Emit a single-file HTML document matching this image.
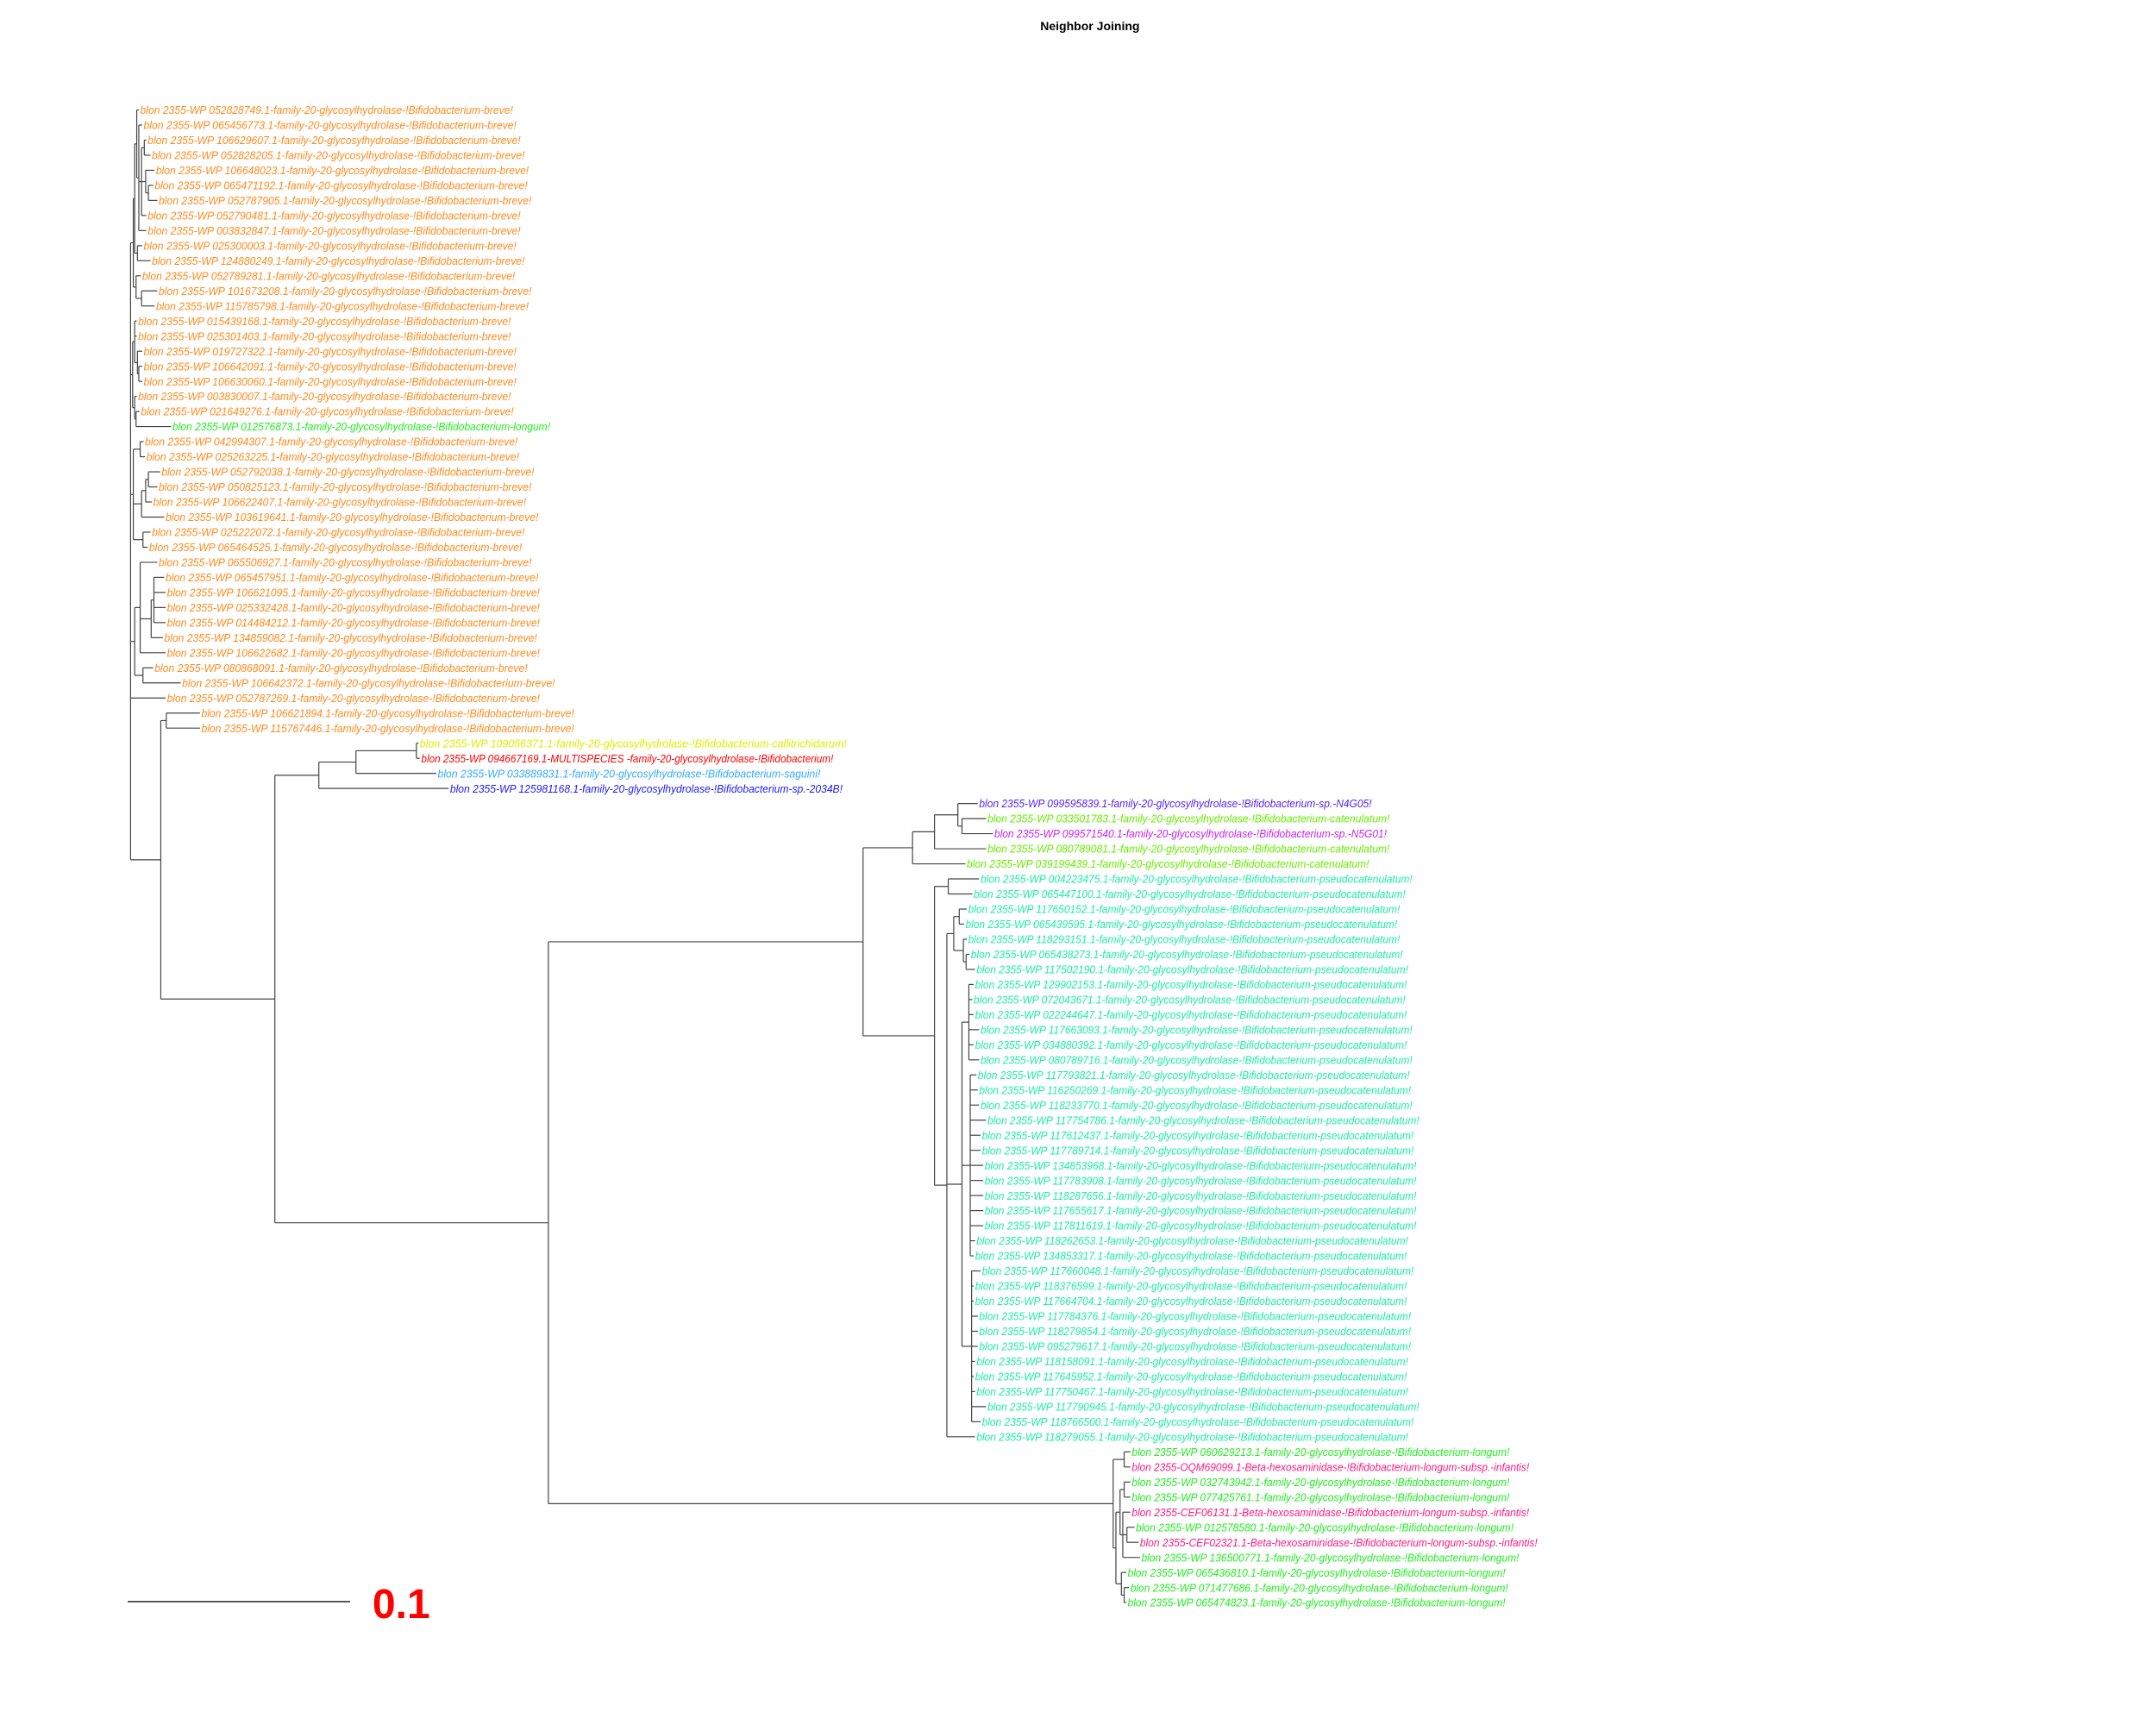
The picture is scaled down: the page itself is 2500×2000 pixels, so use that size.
<!DOCTYPE html>
<html><head><meta charset="utf-8">
<style>
html,body{margin:0;padding:0;background:#fff;}
svg{display:block;}
text{font-family:"Liberation Sans",Arial,sans-serif;}
</style></head>
<body>
<svg id="s" xmlns="http://www.w3.org/2000/svg" width="2500" height="2000" viewBox="0 0 1550 1240">
<rect width="1550" height="1240" fill="#fff"/>
<text x="783.6" y="21.7" font-size="8.7" font-weight="bold" text-anchor="middle" fill="#000">Neighbor Joining</text>
<line x1="91.8" y1="1151.3" x2="251.7" y2="1151.3" stroke="#333" stroke-width="1"/>
<text x="267.8" y="1163" font-size="29.8" font-weight="bold" fill="#ff0000">0.1</text>
<g transform="scale(0.988)">
<g id="lines" stroke="#444" stroke-width="0.75" fill="none"></g>
<g id="labels" font-style="italic" font-size="8.1"></g>
</g>
</svg>
<script>
var OR="#ff8a1c",GR="#22ee22",LG="#66ee00",CY="#1aeea6",PK="#ff1a80";
var F="-family-20-glycosylhydrolase-!Bifidobacterium-";
function W(n,sp,c){return ["blon 2355-WP "+n+".1"+F+sp+"!",c];}
var L=[];
var br=["052828749","065456773","106629607","052828205","106648023","065471192","052787905","052790481","003832847","025300003","124880249","052789281","101673208","115785798","015439168","025301403","019727322","106642091","106630060","003830007","021649276"];
br.forEach(function(n){L.push(W(n,"breve",OR));});
L.push(W("012576873","longum",GR));
["042994307","025263225","052792038","050825123","106622407","103619641","025222072","065464525","065506927","065457951","106621095","025332428","014484212","134859082","106622682","080868091","106642372","052787269","106621894","115767446"].forEach(function(n){L.push(W(n,"breve",OR));});
L.push(W("109056371","callitrichidarum","#ddee00"));
L.push(["blon 2355-WP 094667169.1-MULTISPECIES -family-20-glycosylhydrolase-!Bifidobacterium!","#ff0000"]);
L.push(W("033889831","saguini","#33aaff"));
L.push(W("125981168","sp.-2034B","#1a1aff"));
L.push(W("099595839","sp.-N4G05","#5522ff"));
L.push(W("033501783","catenulatum",LG));
L.push(W("099571540","sp.-N5G01","#cc22ee"));
L.push(W("080789081","catenulatum",LG));
L.push(W("039199439","catenulatum",LG));
["004223475","065447100","117650152","065439595","118293151","065438273","117502190","129902153","072043671","022244647","117663093","034880392","080789716","117793821","116250269","118233770","117754786","117612437","117789714","134853968","117783908","118287656","117655617","117811619","118262653","134853317","117660048","118376599","117664704","117784376","118279854","095279617","118158091","117645952","117750467","117790945","118766500","118279055"].forEach(function(n){L.push(W(n,"pseudocatenulatum",CY));});
function BH(id){return ["blon 2355-"+id+".1-Beta-hexosaminidase-!Bifidobacterium-longum-subsp.-infantis!",PK];}
L.push(W("060629213","longum",GR));
L.push(BH("OQM69099"));
L.push(W("032743942","longum",GR));
L.push(W("077425761","longum",GR));
L.push(BH("CEF06131"));
L.push(W("012578580","longum",GR));
L.push(BH("CEF02321"));
L.push(W("136500771","longum",GR));
L.push(W("065436810","longum",GR));
L.push(W("071477686","longum",GR));
L.push(W("065474823","longum",GR));
var LX=[100,104,107,110,113,112,115,107,107,104,110,103,115,113,99,99,104,104,104,100,102,125,105,106,117,115,111,120,110,108,115,120,121,121,121,119,121,112,132,121,146,146,303,306,318,327,
712,718,723,718,703,713,708,704,702,704,706,710,709,708,709,713,709,713,711,712,713,718,714,714,716,716,716,716,716,710,709,714,709,709,712,712,712,710,708,710,718,714,710,
823,823,823,823,823,826,829,830,820,822,820];
function Y(i){return 80+i*10.97;}
function N(x,c){return {x:x,c:c};}
var A=N(97,[N(98,[N(99.5,[0,N(101,[1,N(103,[N(105,[2,3]),N(106,[4,N(108,[5,6])]),7]),8])]),N(100,[9,10])]),N(99,[11,N(103,[12,13])])]);
var B=N(96.5,[N(98,[14,15,N(100,[16,N(101,[17,18])])]),N(98,[19,N(99,[20,21])])]);
var C=N(97,[N(102,[22,23]),N(103,[N(106,[N(108,[24,25]),26]),27]),N(104,[28,29])]);
var D=N(98,[N(102,[30,N(110,[N(112,[31,32,33,34]),35]),36]),N(104,[37,38])]);
var C2=N(628,[N(664,[N(680,[N(697,[46,N(700,[47,48])]),49]),50]),
 N(680,[N(690,[51,52]),N(689,[N(694,[N(698,[53,54]),N(701,[55,N(703,[56,57])])]),
  N(700,[N(705,[58,59,60,61,62,63]),N(706,[64,65,66,67,68,69,70,71,72,73,74,75,76]),N(707,[77,78,79,80,81,82,83,84,85,86,87])]),88])])]);
var C3=N(810,[N(818,[89,90]),N(812,[N(815,[N(818,[91,92]),N(817,[93,N(820,[94,95]),96])]),N(816,[97,N(818,[98,99])])])]);
var P=N(200,[N(232,[N(259,[N(303,[42,43]),44]),45]),N(399,[C2,C3])]);
var E=N(117,[N(121,[40,41]),P]);
var R=N(95,[A,B,C,D,39,E]);
var lines="",labels="";
function ln(x1,y1,x2,y2){lines+='<line x1="'+x1.toFixed(2)+'" y1="'+y1.toFixed(2)+'" x2="'+x2.toFixed(2)+'" y2="'+y2.toFixed(2)+'"/>';}
function lay(n){
  if(typeof n==="number"){return {y:Y(n)};}
  var ys=[],kids=[];
  n.c.forEach(function(ch){var r=lay(ch);kids.push([ch,r]);ys.push(r.y);});
  var y0=Math.min.apply(null,ys),y1=Math.max.apply(null,ys);
  ln(n.x,y0,n.x,y1);
  kids.forEach(function(k){
    var ch=k[0],r=k[1];
    if(typeof ch==="number"){
      var tx=Math.max(LX[ch],n.x+2);
      ln(n.x,r.y,tx-0.5,r.y);
      LX[ch]=tx;
    } else { ln(n.x,r.y,ch.x,r.y); }
  });
  return {y:(y0+y1)/2};
}
lay(R);
L.forEach(function(l,i){
  var t=l[0];
  labels+='<text x="'+(LX[i]+0.5).toFixed(2)+'" y="'+(Y(i)+2.9).toFixed(2)+'" fill="'+l[1]+'" textLength="'+(t.length*3.57).toFixed(1)+'" lengthAdjust="spacingAndGlyphs">'+t+'</text>';
});
document.getElementById("lines").innerHTML=lines;
document.getElementById("labels").innerHTML=labels;
</script>
</body></html>
